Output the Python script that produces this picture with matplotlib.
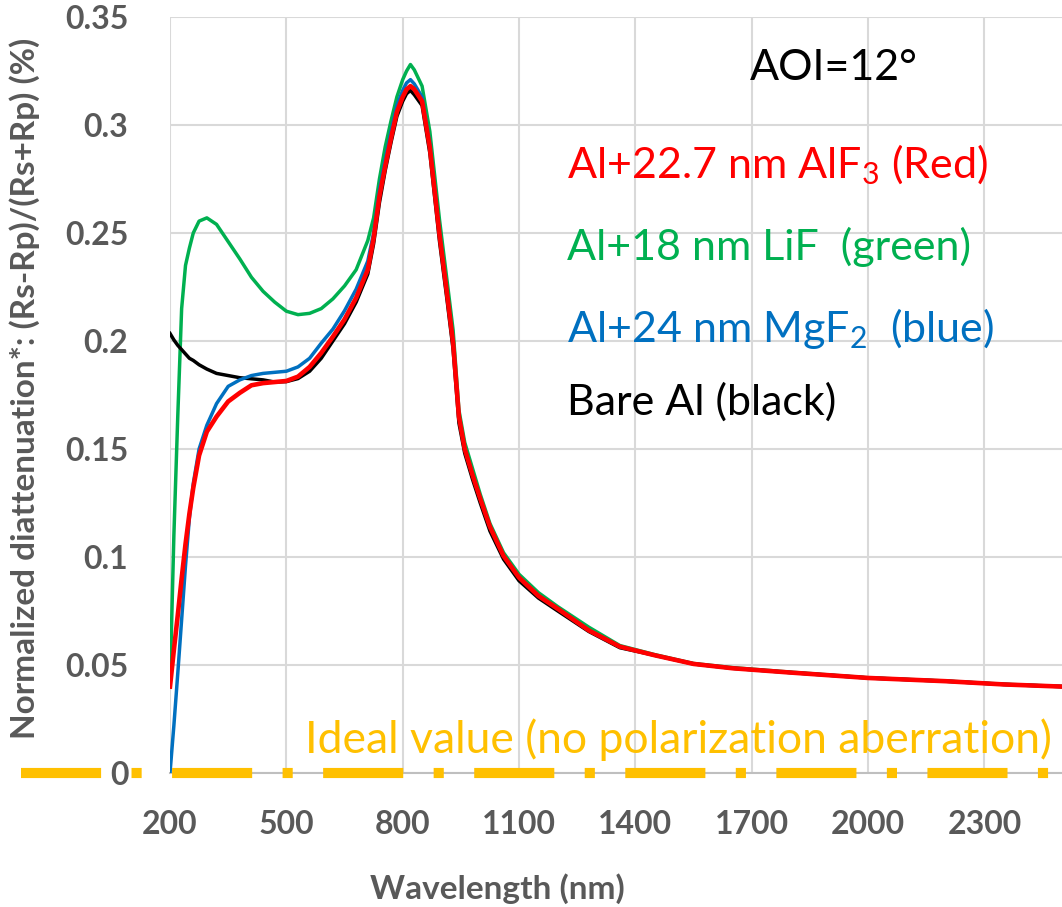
import matplotlib
matplotlib.use("Agg")
import matplotlib.pyplot as plt

# wavelength grid (nm) shared by all four curves
wavelength = [200, 210, 220, 230, 240, 250, 260, 275, 295, 320, 350, 380, 410, 440, 470,
              500, 530, 560, 590, 620, 650, 680, 710, 725, 740, 755, 770, 785, 800, 810,
              820, 830, 850, 870, 895, 915, 930, 945, 960, 980, 1000, 1025, 1060, 1100,
              1150, 1200, 1280, 1360, 1450, 1550, 1650, 1800, 2000, 2200, 2350, 2500]

bare_al = [0.2035, 0.2005, 0.198, 0.196, 0.194, 0.192, 0.191, 0.189, 0.187, 0.185, 0.184,
           0.183, 0.1825, 0.182, 0.181, 0.1812, 0.1826, 0.186, 0.192, 0.200, 0.208, 0.218,
           0.231, 0.245, 0.264, 0.279, 0.292, 0.304, 0.311, 0.3145, 0.316, 0.314, 0.309,
           0.287, 0.246, 0.218, 0.196, 0.162, 0.148, 0.136, 0.125, 0.112, 0.099, 0.089,
           0.081, 0.075, 0.0655, 0.058, 0.0545, 0.0505, 0.0485, 0.0465, 0.044, 0.0425,
           0.041, 0.040]

mgf2 = [0.000, 0.022, 0.046, 0.071, 0.096, 0.118, 0.134, 0.150, 0.161, 0.171, 0.179, 0.182,
        0.184, 0.185, 0.1855, 0.186, 0.188, 0.192, 0.199, 0.2055, 0.214, 0.224, 0.237,
        0.250, 0.270, 0.284, 0.297, 0.309, 0.316, 0.3195, 0.321, 0.319, 0.313, 0.291,
        0.250, 0.221, 0.199, 0.165, 0.150, 0.138, 0.127, 0.114, 0.1005, 0.0905, 0.082,
        0.076, 0.066, 0.0585, 0.0545, 0.0505, 0.0485, 0.0465, 0.044, 0.0425, 0.041, 0.040]

lif = [0.040, 0.110, 0.165, 0.215, 0.235, 0.243, 0.250, 0.2555, 0.257, 0.254, 0.246, 0.238,
       0.2295, 0.223, 0.218, 0.2138, 0.2122, 0.2128, 0.215, 0.2195, 0.2255, 0.233, 0.2465,
       0.257, 0.275, 0.290, 0.302, 0.313, 0.321, 0.325, 0.328, 0.3255, 0.318, 0.297, 0.256,
       0.227, 0.205, 0.168, 0.153, 0.141, 0.129, 0.1155, 0.102, 0.092, 0.0835, 0.077,
       0.0675, 0.059, 0.0548, 0.0507, 0.0488, 0.0467, 0.0441, 0.0426, 0.0411, 0.0401]

alf3 = [0.040, 0.057, 0.073, 0.090, 0.106, 0.120, 0.132, 0.147, 0.158, 0.165, 0.172, 0.176,
        0.1795, 0.1805, 0.181, 0.1815, 0.1835, 0.188, 0.1945, 0.202, 0.210, 0.220, 0.233,
        0.2475, 0.267, 0.281, 0.294, 0.306, 0.313, 0.3165, 0.318, 0.3165, 0.311, 0.2895,
        0.249, 0.221, 0.199, 0.165, 0.150, 0.138, 0.127, 0.114, 0.1005, 0.0905, 0.082,
        0.076, 0.066, 0.0585, 0.0545, 0.0505, 0.0485, 0.0465, 0.044, 0.0425, 0.041, 0.040]

x_ticks = [200, 500, 800, 1100, 1400, 1700, 2000, 2300]
y_ticks = [0, 0.05, 0.1, 0.15, 0.2, 0.25, 0.3, 0.35]
y_tick_labels = ["0", "0.05", "0.1", "0.15", "0.2", "0.25", "0.3", "0.35"]

RED = "#FF0000"
GREEN = "#00B050"
BLUE = "#0070C0"
ORANGE = "#FFC000"
GREY = "#595959"

plt.rcParams["font.family"] = ["Lato", "DejaVu Sans"]
plt.rcParams["mathtext.fontset"] = "custom"
plt.rcParams["mathtext.rm"] = "Lato"
plt.rcParams["mathtext.it"] = "Lato:italic"
plt.rcParams["mathtext.bf"] = "Lato:bold"

W, H = 1062, 907
fig = plt.figure(figsize=(W / 100, H / 100), dpi=100)
ax = fig.add_axes([170 / W, 1 - 773 / H, (W - 170) / W, (773 - 17) / H])


def fx(px):
    return px / W


def fy(py):
    return 1 - py / H


ax.plot(wavelength, lif, color=GREEN, lw=2.5, zorder=3)
ax.plot(wavelength, bare_al, color="black", lw=2.5, zorder=4)
ax.plot(wavelength, mgf2, color=BLUE, lw=2.5, zorder=5)
ax.plot(wavelength, alf3, color=RED, lw=3.3, zorder=6)

# ideal value line, runs out into the left margin like the original
ax.axhline(0, xmin=(21 - 170) / (W - 170), xmax=1, color=ORANGE, lw=7.3,
           dashes=(7.9, 3.0, 1.0, 3.0), dash_capstyle="butt", clip_on=False, zorder=7)

ax.set_xlim(200, 2500)
ax.set_ylim(0, 0.35)
ax.set_xticks(x_ticks)
ax.set_yticks(y_ticks)
ax.set_yticklabels(y_tick_labels)
ax.grid(True, color="#D9D9D9", lw=1.5)
ax.set_axisbelow(True)
for s in ["top", "right", "left"]:
    ax.spines[s].set_visible(False)
ax.spines["bottom"].set_color("#BFBFBF")
ax.spines["bottom"].set_linewidth(1.5)
ax.tick_params(length=0, labelsize=23, labelcolor=GREY)
ax.tick_params(axis="y", pad=30)
ax.tick_params(axis="x", pad=27)
for lab in ax.get_xticklabels() + ax.get_yticklabels():
    lab.set_fontweight("bold")

fig.text(fx(25), fy(388), "Normalized diattenuation*: (Rs-Rp)/(Rs+Rp) (%)", rotation=90,
         ha="center", va="center", fontsize=24, fontweight="bold", color=GREY)
fig.text(fx(497), fy(899), "Wavelength (nm)", ha="center", va="baseline",
         fontsize=24, fontweight="bold", color=GREY)

fs = 31
fig.text(fx(750), fy(80), "AOI=12°", ha="left", va="baseline", fontsize=fs, color="black")
fig.text(fx(567), fy(178), "Al+22.7 nm AlF$_3$ (Red)", ha="left", va="baseline", fontsize=fs, color=RED)
fig.text(fx(567), fy(260), "Al+18 nm LiF  (green)", ha="left", va="baseline", fontsize=fs, color=GREEN)
fig.text(fx(567), fy(342), "Al+24 nm MgF$_2$  (blue)", ha="left", va="baseline", fontsize=fs, color=BLUE)
fig.text(fx(567), fy(415), "Bare Al (black)", ha="left", va="baseline", fontsize=fs, color="black")
fig.text(fx(305), fy(753), "Ideal value (no polarization aberration)", ha="left", va="baseline",
         fontsize=32, color=ORANGE)

fig.savefig("out.png", dpi=100)
